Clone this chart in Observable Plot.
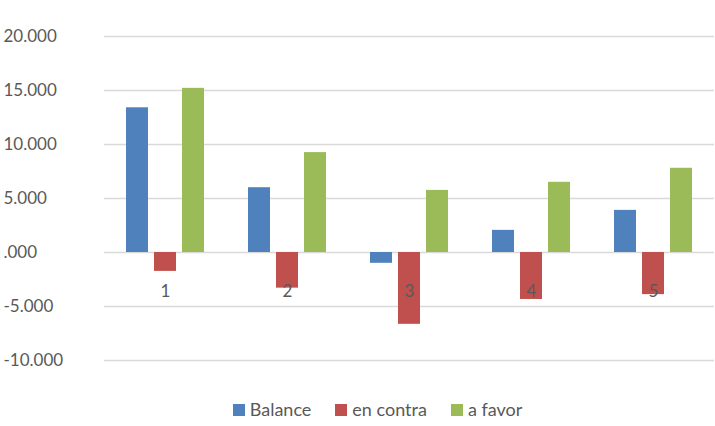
<!DOCTYPE html>
<html><head><meta charset="utf-8">
<script src="https://cdn.jsdelivr.net/npm/d3@7"></script>
<script src="https://cdn.jsdelivr.net/npm/@observablehq/plot@0.6"></script>
<style>
body{margin:0;background:#fff;font-family:Lato,"Open Sans",sans-serif;}
#legend{display:flex;justify-content:center;gap:24px;font-size:18px;color:#595959;margin-top:8px;padding-left:40px}
#legend span i{display:inline-block;width:12px;height:12px;margin-right:5px}
</style></head>
<body><div id="chart"></div>
<script>
var categories = ["1", "2", "3", "4", "5"];
var series = ["Balance", "en contra", "a favor"];
var balance = [13.4, 6.0, -1.0, 2.05, 3.9];
var enContra = [-1.75, -3.3, -6.65, -4.35, -3.9];
var aFavor = [15.2, 9.25, 5.75, 6.5, 7.8];
var colors = ["#4F81BD", "#C0504D", "#9BBB59"];
var yTicks = [-10, -5, 0, 5, 10, 15, 20];

var rows = [];
categories.forEach(function (c, i) {
    rows.push({ cat: c, s: series[0], v: balance[i] });
    rows.push({ cat: c, s: series[1], v: enContra[i] });
    rows.push({ cat: c, s: series[2], v: aFavor[i] });
});

var fmt = function (d) { return d === 0 ? ".000" : d.toFixed(3); };

var chart = Plot.plot({
    width: 715,
    height: 390,
    marginLeft: 102,
    marginRight: 0,
    marginTop: 36,
    marginBottom: 30,
    style: { fontFamily: "Lato, 'Open Sans', sans-serif", fontSize: "17px", color: "#595959" },
    fx: { domain: categories, padding: 0, axis: null },
    x: { domain: series, paddingInner: 0.22, paddingOuter: 0.78, axis: null },
    y: { domain: [-10, 20], ticks: yTicks, tickFormat: fmt, label: null, tickSize: 0, tickPadding: 0 },
    color: { domain: series, range: colors },
    marks: [
        Plot.gridY(yTicks, { stroke: "#d9d9d9", strokeOpacity: 1, strokeWidth: 1.3 }),
        Plot.axisY(yTicks, { tickSize: 0, tickFormat: fmt, textAnchor: "start", dx: -92, fontSize: 17, label: null }),
        Plot.barY(rows, { fx: "cat", x: "s", y: "v", fill: "s" }),
        Plot.text(categories, { fx: function (d) { return d; }, y: -3.6, text: function (d) { return d; }, fontSize: 17, fill: "#595959" })
    ]
});
document.getElementById("chart").append(chart);

var lg = document.createElement("div");
lg.id = "legend";
series.forEach(function (s, i) {
    var sp = document.createElement("span");
    sp.innerHTML = '<i style="background:' + colors[i] + '"></i>' + s;
    lg.append(sp);
});
document.getElementById("chart").append(lg);
</script></body></html>
